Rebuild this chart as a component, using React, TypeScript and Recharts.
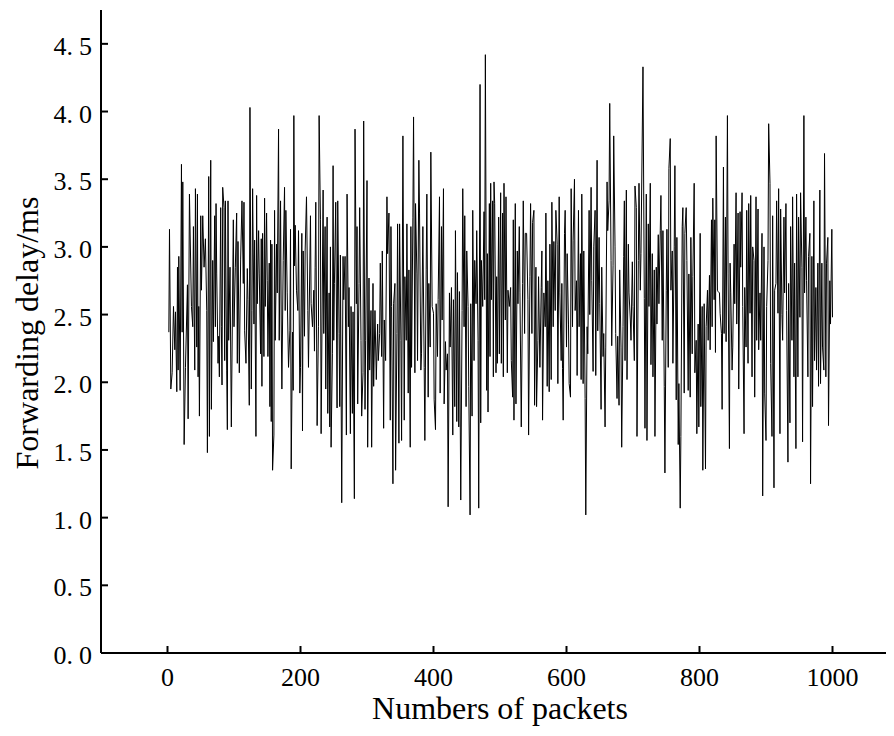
import React from 'react';
import { LineChart, Line, XAxis, YAxis } from 'recharts';

// [packet number, forwarding delay in ms]
const packets0to200: [number, number][] = [
  [2,2.37],[3,3.13],[5,1.95],[7,2.07],[9,2.56],[11,2.24],[12,2.52],[14,1.93],[15,2.85],[16,2.09],
  [17,2.93],[19,1.94],[21,3.61],[22,2.37],[23,3.48],[25,1.54],[27,2.11],[30,2.72],[31,1.73],[33,3.39],
  [36,2.56],[38,2.41],[39,3.15],[41,2.09],[42,3.43],[44,2.26],[45,3.39],[46,2.04],[47,2.56],[48,1.75],
  [50,3.23],[51,2.68],[53,3.23],[55,2.85],[57,3.06],[59,2.53],[60,1.48],[62,3.52],[63,1.60],[65,3.64],
  [66,1.80],[68,2.90],[69,2.30],[71,3.23],[72,2.41],[73,3.32],[74,2.80],[76,2.14],[77,2.34],[78,2.04],
  [80,3.29],[81,2.41],[82,1.98],[83,3.44],[85,3.29],[86,2.16],[87,3.34],[89,2.09],[90,1.65],[91,3.34],
  [92,2.31],[94,2.85],[96,1.67],[99,3.20],[100,2.41],[102,2.85],[104,3.25],[105,2.14],[106,3.04],[108,2.07],
  [110,2.91],[112,3.34],[114,2.73],[115,3.33],[116,2.38],[118,2.14],[120,2.84],[121,2.61],[123,1.83],[124,4.03],
  [126,1.95],[127,2.53],[128,3.43],[130,2.43],[131,3.05],[133,1.60],[134,3.38],[135,2.58],[137,3.12],[138,2.80],
  [140,2.21],[141,3.06],[142,1.97],[143,3.10],[145,2.19],[146,3.36],[147,2.56],[149,3.25],[150,2.75],[151,2.19],
  [153,2.88],[154,1.82],[155,3.05],[156,1.71],[157,3.02],[158,1.35],[160,1.61],[161,3.27],[162,2.31],[164,3.02],
  [165,2.66],[167,3.87],[168,2.31],[170,3.34],[171,2.46],[172,1.95],[174,2.90],[176,3.44],[177,2.53],[178,3.27],
  [180,2.66],[182,2.11],[184,2.38],[185,3.13],[186,1.36],[188,2.37],[189,1.94],[190,3.97],[191,2.86],[192,3.16],
  [194,2.68],[196,2.53],[197,3.12],[199,1.92],
];

const packets200to400: [number, number][] = [
  [200,2.11],[202,3.10],[203,1.64],[204,2.97],[206,2.34],[207,2.97],[209,3.37],[211,2.53],[212,2.11],[215,3.23],
  [216,2.58],[218,2.41],[220,2.68],[221,2.23],[222,2.85],[223,3.33],[225,1.68],[227,2.41],[228,3.97],[230,3.20],
  [231,1.62],[234,3.42],[235,2.36],[237,3.15],[238,1.95],[240,3.22],[241,1.77],[243,2.66],[244,1.67],[245,3.00],
  [246,1.52],[248,2.21],[249,3.60],[250,2.31],[251,2.73],[253,3.33],[255,1.81],[256,3.34],[258,2.36],[259,1.82],
  [260,2.94],[262,1.11],[264,2.93],[265,2.61],[267,2.93],[269,1.61],[270,3.39],[272,2.41],[273,2.70],[275,1.62],
  [276,2.56],[278,1.77],[279,2.52],[281,1.14],[282,3.87],[284,2.58],[285,3.15],[286,1.84],[288,2.73],[289,3.29],
  [291,2.31],[292,1.75],[294,2.07],[295,3.93],[297,1.80],[298,2.31],[300,3.49],[301,1.52],[303,2.77],[304,2.09],
  [306,2.53],[307,1.52],[309,2.73],[310,1.97],[312,2.53],[314,2.02],[316,2.43],[317,2.16],[319,2.36],[320,2.88],
  [322,2.19],[323,2.97],[325,1.66],[326,2.46],[328,2.16],[330,3.37],[331,2.95],[333,3.25],[335,1.72],[336,3.15],
  [337,2.56],[339,1.25],[340,2.58],[342,2.73],[343,1.35],[345,2.36],[346,3.17],[348,1.55],[349,3.17],[351,2.31],
  [352,1.57],[354,3.82],[356,1.72],[357,2.78],[359,2.31],[360,3.17],[362,1.92],[363,2.83],[365,1.52],[366,3.15],
  [367,2.11],[369,3.22],[370,3.96],[372,2.07],[373,3.32],[375,2.80],[376,2.16],[378,3.64],[379,3.25],[381,2.09],
  [382,2.21],[384,3.15],[386,2.11],[387,1.57],[389,2.83],[390,3.39],[392,1.89],[393,2.73],[395,2.26],[396,3.70],
  [398,2.56],[400,2.51],[401,1.87],
];

const packets400to600: [number, number][] = [
  [403,1.65],[404,2.58],[406,2.19],[407,2.61],[409,3.37],[410,1.92],[412,3.15],[413,2.46],[415,3.43],[416,1.84],
  [418,2.30],[419,2.09],[421,2.21],[422,1.08],[424,2.66],[425,2.26],[427,2.70],[429,1.61],[430,2.61],[432,1.82],
  [433,3.12],[435,1.71],[436,2.81],[438,1.67],[439,2.67],[441,1.13],[443,2.53],[444,3.43],[446,2.41],[447,3.23],
  [449,1.82],[450,2.97],[452,2.56],[453,1.97],[455,1.02],[456,2.58],[458,1.75],[459,3.27],[461,2.16],[462,2.90],
  [464,2.58],[465,3.12],[467,2.31],[468,1.07],[470,4.20],[471,1.70],[472,2.90],[474,2.56],[476,3.26],[477,2.61],
  [478,4.42],[480,1.94],[481,2.95],[482,1.78],[484,3.32],[485,2.19],[486,3.47],[487,2.61],[489,3.34],[490,2.04],
  [491,3.48],[492,3.32],[494,2.07],[495,2.78],[496,2.14],[498,3.22],[499,2.21],[501,3.40],[502,2.14],[504,3.25],
  [505,2.04],[506,3.47],[508,2.46],[509,3.37],[511,2.07],[512,2.68],[514,2.56],[516,2.70],[517,2.16],[519,1.89],
  [520,3.20],[521,1.72],[523,3.32],[524,1.84],[526,2.97],[527,2.58],[529,3.15],[530,2.66],[532,1.67],[534,2.73],
  [535,3.34],[537,2.36],[538,3.10],[540,3.10],[542,2.61],[543,1.61],[545,2.78],[546,3.32],[548,2.36],[549,3.18],
  [551,3.27],[552,1.83],[554,2.85],[555,1.82],[557,2.31],[558,2.78],[560,2.11],[562,2.70],[563,2.97],[564,1.72],
  [566,2.66],[568,2.41],[569,3.25],[571,1.97],[572,2.75],[574,1.93],[575,3.02],[577,2.02],[578,3.33],[580,2.41],
  [581,3.04],[583,2.53],[584,3.27],[586,3.02],[587,1.99],[589,3.37],[590,2.66],[592,2.16],[593,2.73],[594,2.10],
  [595,1.72],[597,3.10],[598,3.27],[600,2.26],[601,2.95],[603,2.43],[604,1.99],
];

const packets600to800: [number, number][] = [
  [606,1.89],[607,3.43],[609,2.41],[610,3.05],[612,3.50],[613,2.53],[615,2.75],[616,2.05],[618,3.27],[619,2.41],
  [621,2.95],[622,2.02],[623,3.39],[625,1.99],[626,2.97],[628,1.88],[629,1.02],[631,2.41],[632,2.21],[634,3.27],
  [635,2.50],[637,3.44],[638,2.75],[640,2.08],[641,3.00],[643,3.27],[644,2.05],[646,3.64],[647,2.38],[649,3.07],
  [650,2.58],[652,1.80],[653,2.85],[655,2.19],[656,2.36],[658,1.67],[659,2.26],[661,3.48],[662,3.12],[664,3.34],
  [665,4.06],[667,2.90],[668,2.27],[670,2.86],[671,3.82],[673,3.00],[674,2.36],[676,1.88],[677,2.34],[679,1.83],
  [680,2.83],[682,2.26],[683,1.52],[685,2.41],[686,2.93],[687,3.34],[688,2.16],[690,3.42],[691,2.02],[693,3.02],
  [694,2.66],[696,2.46],[697,2.31],[699,2.89],[700,2.56],[702,2.16],[703,3.45],[705,3.29],[706,1.60],[708,2.90],
  [709,3.47],[711,2.68],[712,2.95],[715,4.33],[717,2.62],[718,1.66],[720,3.39],[721,1.57],[723,3.17],[724,2.56],
  [726,3.47],[727,2.13],[729,2.95],[730,2.04],[732,2.83],[733,1.60],[735,2.85],[736,2.43],[738,3.09],[739,2.58],
  [741,3.12],[742,3.38],[744,2.31],[745,3.12],[747,1.97],[748,1.33],[750,2.68],[751,3.13],[753,2.11],[754,3.58],
  [756,3.80],[757,2.68],[759,2.97],[760,2.14],[762,3.00],[763,3.60],[765,1.87],[766,3.07],[768,1.54],[769,1.99],
  [771,1.07],[772,1.60],[774,3.15],[775,3.29],[777,1.92],[778,3.10],[780,3.29],[781,2.90],[783,1.94],[784,2.80],
  [786,1.89],[787,3.07],[789,2.21],[790,2.78],[792,3.47],[793,2.07],[795,2.31],[796,1.62],[798,2.43],[799,1.67],
  [801,3.10],[802,1.82],[804,2.56],[805,1.35],[807,2.58],
];

const packets800to1000: [number, number][] = [
  [809,1.36],[810,2.41],[812,2.68],[813,2.31],[815,2.79],[816,2.24],[818,3.20],[819,2.41],[820,3.36],[822,2.61],
  [823,3.20],[824,2.22],[825,3.82],[827,2.68],[828,2.67],[830,2.66],[831,2.51],[833,2.36],[834,1.80],[836,3.59],
  [837,2.36],[839,3.22],[840,2.30],[842,3.97],[843,2.80],[845,1.51],[846,2.88],[847,2.66],[849,2.09],[850,2.26],
  [852,3.02],[853,2.58],[855,3.40],[856,2.43],[858,3.25],[859,1.95],[861,3.26],[862,2.85],[864,3.40],[865,2.56],
  [867,1.62],[868,2.70],[870,2.26],[871,3.27],[873,2.14],[874,3.32],[876,2.51],[877,3.38],[879,2.04],[880,3.00],
  [882,2.90],[883,1.89],[885,3.37],[886,2.31],[888,3.28],[889,2.24],[891,2.66],[892,2.31],[894,3.10],[895,1.16],
  [897,3.00],[898,1.92],[900,1.57],[901,2.56],[903,2.90],[904,3.91],[906,3.47],[907,2.14],[909,1.60],[910,3.23],
  [912,1.22],[913,2.68],[915,2.73],[916,3.34],[918,2.51],[919,3.43],[921,1.62],[922,3.28],[924,2.50],[925,2.31],
  [927,3.22],[928,2.66],[930,3.32],[931,2.53],[933,1.41],[934,2.73],[936,1.70],[937,3.15],[939,2.31],[940,3.37],
  [942,2.04],[943,2.88],[945,1.51],[946,3.39],[948,2.04],[949,3.22],[951,2.48],[952,3.40],[954,2.85],[955,1.56],
  [957,3.97],[958,2.66],[960,3.22],[961,2.75],[963,2.04],[964,2.93],[966,3.10],[967,1.25],[969,2.93],[970,1.82],
  [972,3.34],[973,2.16],[975,2.70],[976,2.09],[978,2.88],[979,1.97],[981,3.42],[982,1.99],[984,2.88],[985,2.26],
  [987,2.09],[988,3.69],[990,2.04],[991,2.88],[993,3.07],[994,1.68],[996,2.75],[997,2.43],[999,3.13],[1000,2.48],
];

const xTicks = [0, 200, 400, 600, 800, 1000];
const yTicks = [0, 0.5, 1, 1.5, 2, 2.5, 3, 3.5, 4, 4.5];
const xTitle = 'Numbers of packets';
const yTitle = 'Forwarding delay/ms';

const data = [
  ...packets0to200,
  ...packets200to400,
  ...packets400to600,
  ...packets600to800,
  ...packets800to1000,
].map(([packet, delay]) => ({ packet, delay }));

const FONT = '"Liberation Serif", "Times New Roman", serif';

const XTick = (props: any) => {
  const { x, y, payload } = props;
  return (
    <g>
      <line x1={x} y1={y} x2={x} y2={y - 7} stroke="#000" strokeWidth={2} />
      <text x={x} y={y + 33} textAnchor="middle" fontFamily={FONT} fontSize={26} fill="#000">
        {payload.value}
      </text>
    </g>
  );
};

const YTick = (props: any) => {
  const { x, y, payload } = props;
  const s = Number(payload.value).toFixed(1);
  const [a, b] = s.split('.');
  return (
    <g>
      <line x1={x} y1={y} x2={x + 7} y2={y} stroke="#000" strokeWidth={2} />
      <text x={x - 9} y={y + 11} textAnchor="end" fontFamily={FONT} fontSize={26} fill="#000">
        <tspan>{a + '.'}</tspan>
        <tspan dx={6}>{b}</tspan>
      </text>
    </g>
  );
};

const XTitle = () => (
  <text x={492} y={711} textAnchor="middle" fontFamily={FONT} fontSize={32} fill="#000">
    {xTitle}
  </text>
);

const YTitle = () => (
  <text
    x={30}
    y={325}
    transform="rotate(-90 30 325)"
    textAnchor="middle"
    fontFamily={FONT}
    fontSize={32}
    fill="#000"
  >
    {yTitle}
  </text>
);

export default function App() {
  return (
    <div style={{ width: 886, height: 720, overflow: 'hidden', background: '#fff' }}>
      <LineChart
        width={898}
        height={720}
        data={data}
        margin={{ top: 2, right: 7, bottom: 0, left: 0 }}
      >
        <XAxis
          dataKey="packet"
          type="number"
          domain={[-100, 1100]}
          ticks={xTicks}
          allowDataOverflow
          height={75}
          tickLine={false}
          tickSize={0}
          tickMargin={0}
          axisLine={{ stroke: '#000', strokeWidth: 2 }}
          tick={<XTick />}
          interval={0}
          label={<XTitle />}
        />
        <YAxis
          type="number"
          domain={[0, 4.75]}
          ticks={yTicks}
          allowDataOverflow
          width={93}
          tickLine={false}
          tickSize={0}
          tickMargin={0}
          axisLine={{ stroke: '#000', strokeWidth: 2 }}
          tick={<YTick />}
          interval={0}
          label={<YTitle />}
        />
        <Line
          dataKey="delay"
          type="linear"
          stroke="#000"
          strokeWidth={1}
          dot={false}
          activeDot={false}
          isAnimationActive={false}
        />
      </LineChart>
    </div>
  );
}
